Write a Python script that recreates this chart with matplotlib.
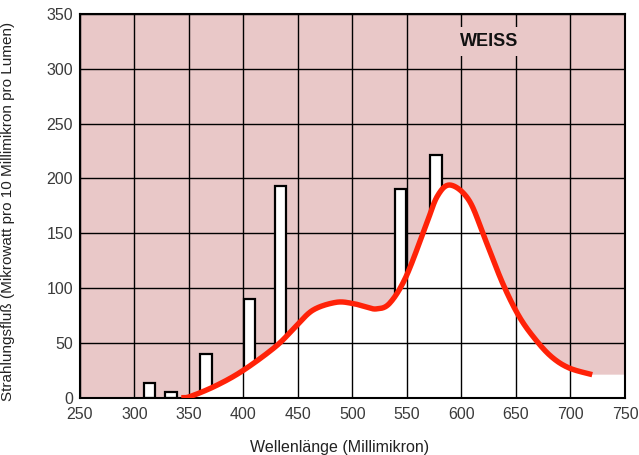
import matplotlib
matplotlib.use("Agg")
import matplotlib.pyplot as plt
import numpy as np
from matplotlib.patches import Polygon

# Spectral curve (continuous)
curve_x = [343, 351, 375, 400, 430, 448, 464, 485, 500, 512, 522, 534, 549, 567, 578, 590, 607, 622, 638, 653, 668, 683, 699, 720]
curve_y = [0, 1, 11, 25, 47, 65, 80, 87, 86, 83, 81, 86, 110, 156, 184, 194, 180, 144, 104, 74, 53, 37, 27, 21]

# Mercury lines (bars)
line_pos = [314, 333.5, 365.5, 405.5, 434, 544, 576.5]
line_top = [13, 5, 40, 90, 193, 190, 221]

x_ticks = [250, 300, 350, 400, 450, 500, 550, 600, 650, 700, 750]
y_ticks = [0, 50, 100, 150, 200, 250, 300, 350]

fig = plt.figure(figsize=(6.39, 4.55), dpi=100)
ax = fig.add_axes([0.125, 0.126, 0.853, 0.843])
pink = "#e9c8c8"
ax.set_facecolor(pink)
ax.set_xlim(250, 750)
ax.set_ylim(0, 350)


def catmull(xp, yp, n=30):
    pts = np.array(list(zip(xp, yp)), float)
    pts = np.vstack([pts[0], pts, pts[-1]])
    out = []
    for i in range(1, len(pts) - 2):
        p0, p1, p2, p3 = pts[i-1], pts[i], pts[i+1], pts[i+2]
        for t in np.linspace(0, 1, n, endpoint=False):
            t2, t3 = t*t, t*t*t
            out.append(0.5*((2*p1) + (-p0+p2)*t + (2*p0-5*p1+4*p2-p3)*t2 + (-p0+3*p1-3*p2+p3)*t3))
    out.append(pts[-2])
    return np.array(out)


sm = catmull(curve_x, curve_y)
sx, sy = sm[:, 0], np.clip(sm[:, 1], 0, None)

# white fill under curve (extends to right frame)
fx = np.concatenate([[250, sx[0]], sx, [750, 750]])
fy = np.concatenate([[0, 0], sy, [sy[-1], 0]])
ax.fill(fx, fy, color="white", zorder=0.5, lw=0)

ax.grid(True, color="black", lw=1.0, zorder=1)
ax.set_axisbelow(True)

# clip region above curve
above = Polygon(np.column_stack([np.concatenate([[250], fx[1:-1], [750, 750, 250]]),
                                 np.concatenate([[0], fy[1:-1], [350, 350, 350]])]),
                closed=True, transform=ax.transData, facecolor="none", edgecolor="none")
ax.add_patch(above)

bars = ax.bar(line_pos, line_top, width=10.5, color="white", edgecolor="black", linewidth=1.6, zorder=2)
for b in bars:
    b.set_clip_path(above)

ax.plot(sx, sy, color="#ff2208", lw=3.9, solid_capstyle="butt", zorder=3)

ax.set_xticks(x_ticks)
ax.set_yticks(y_ticks)
ax.tick_params(length=0, labelsize=11.5, colors="#3a3a3a")
ax.tick_params(axis="y", pad=5)
ax.tick_params(axis="x", pad=6.5)
for lab in ax.get_xticklabels() + ax.get_yticklabels():
    lab.set_family("Liberation Sans")
for s in ax.spines.values():
    s.set_linewidth(1.5)
    s.set_color("black")

ax.text(625, 325, "WEISS", ha="center", va="center", fontsize=13, fontweight="bold",
        family="Liberation Sans", color="#111111", zorder=4,
        bbox=dict(boxstyle="square,pad=0.35", facecolor=pink, edgecolor="none"))

ax.set_xlabel("Wellenlänge (Millimikron)", fontsize=11.5, family="Liberation Sans",
              color="#222222")
ax.xaxis.set_label_coords(0.477, -0.110)
ax.set_ylabel("Strahlungsfluß (Mikrowatt pro 10 Millimikron pro Lumen)", fontsize=11,
              family="Liberation Sans", color="#222222")
ax.yaxis.set_label_coords(-0.119, 0.485)

fig.savefig("out.png", dpi=100)
